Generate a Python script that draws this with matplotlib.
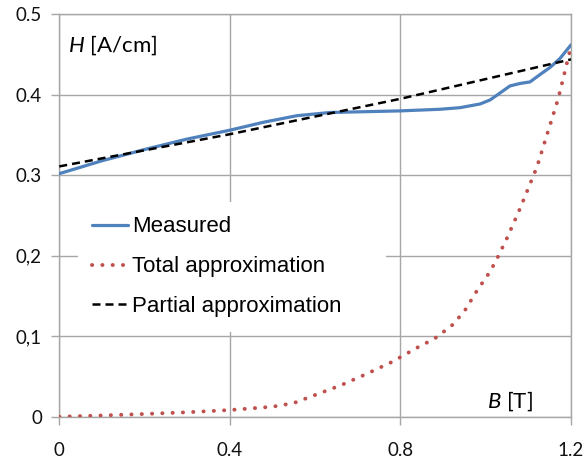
import matplotlib.pyplot as plt

# %% Data
b_measured = [0, 0.1, 0.2, 0.3, 0.4, 0.48, 0.557, 0.635, 0.8, 0.893, 0.94, 0.987, 1.01,
              1.033, 1.057, 1.08, 1.104, 1.127, 1.151, 1.174, 1.2]
h_measured = [0.302, 0.318, 0.332, 0.345, 0.356, 0.366, 0.374, 0.378, 0.380, 0.382, 0.384,
              0.3886, 0.3935, 0.402, 0.411, 0.414, 0.416, 0.425, 0.434, 0.445, 0.462]

b_total = [0, 0.1, 0.2, 0.3, 0.4, 0.5, 0.55, 0.6, 0.66, 0.72, 0.78, 0.84, 0.88, 0.92,
           0.95, 0.98, 1.01, 1.03, 1.05, 1.08, 1.12, 1.14, 1.17, 1.2]
h_total = [0, 0.0015, 0.0034, 0.0055, 0.0083, 0.0124, 0.017, 0.027, 0.039, 0.053, 0.068,
           0.086, 0.097, 0.113, 0.131, 0.157, 0.180, 0.200, 0.222, 0.258, 0.310, 0.344,
           0.395, 0.460]

b_partial = [0, 0.4, 0.8, 1.2]
h_partial = [0.311, 0.351, 0.395, 0.444]

x_ticks = [0, 0.4, 0.8, 1.2]
x_labels = ['0', '0.4', '0.8', '1.2']
y_ticks = [0, 0.1, 0.2, 0.3, 0.4, 0.5]
y_labels = ['0', '0,1', '0,2', '0.3', '0.4', '0.5']

# %% Plot
plt.rcParams['mathtext.fontset'] = 'custom'
plt.rcParams['mathtext.it'] = 'Lato:italic'
plt.rcParams['mathtext.rm'] = 'Lato'

fig = plt.figure(figsize=(5.84, 4.69), dpi=100)
ax = fig.add_axes([0.1015, 0.1115, 0.8762, 0.858])

grid_c = '#a6a6a6'
ax.plot(b_measured, h_measured, color='#4F81BD', lw=2.3, label='Measured', zorder=3,
        solid_capstyle='round', solid_joinstyle='round')
ax.plot(b_total, h_total, color='#C0504D', lw=2.8, linestyle=(0, (0.05, 2.6)),
        dash_capstyle='round', label='Total approximation', zorder=3)
ax.plot(b_partial, h_partial, color='black', lw=1.8, linestyle=(0, (3.2, 2.0)),
        label='Partial approximation', zorder=4)

ax.set_xlim(0, 1.2)
ax.set_ylim(0, 0.5)
ax.set_xticks(x_ticks)
ax.set_xticklabels(x_labels)
ax.set_yticks(y_ticks)
ax.set_yticklabels(y_labels)
ax.grid(True, color=grid_c, lw=1)
for s in ax.spines.values():
    s.set_color(grid_c)
    s.set_linewidth(1)
ax.tick_params(axis='both', color=grid_c, length=5.5, width=1, labelsize=13.5,
               labelcolor='#111111')
ax.tick_params(axis='x', pad=13)
ax.tick_params(axis='y', pad=7)
for lab in ax.get_xticklabels() + ax.get_yticklabels():
    lab.set_fontfamily('Lato')

ax.text(0.017, 0.906, '$H$ [A/cm]', transform=ax.transAxes, fontsize=16,
        fontfamily='Lato', va='baseline', ha='left')
ax.text(0.836, 0.0216, '$B$ [T]', transform=ax.transAxes, fontsize=16,
        fontfamily='Lato', va='baseline', ha='left')

leg = ax.legend(loc='upper left', bbox_to_anchor=(0.036, 0.2155, 0.603, 0.318),
                mode='expand', frameon=True, fancybox=False, borderpad=0.65,
                borderaxespad=0, handlelength=1.6, handletextpad=0.2,
                labelspacing=0.85, prop={'family': 'Liberation Sans', 'size': 16})
leg.get_frame().set_facecolor('white')
leg.get_frame().set_edgecolor('none')
leg.get_frame().set_alpha(1)
leg.set_zorder(5)

fig.savefig('out.png', dpi=100)
